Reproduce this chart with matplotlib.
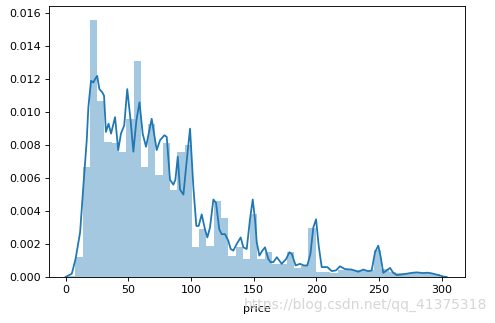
import matplotlib
matplotlib.use("Agg")
import matplotlib.pyplot as plt
import numpy as np

# ---------------- data ----------------
# histogram: 51 bins of equal width starting at bin_start
bin_start = 2.0
bin_width = 5.81
hist_density = [0.00005, 0.0012, 0.0067, 0.0156, 0.0107, 0.0082, 0.0081, 0.0076,
                0.0096, 0.0131, 0.0067, 0.0093, 0.0062, 0.0081, 0.0053, 0.0076,
                0.0080, 0.0018, 0.0029, 0.0019, 0.0046, 0.0036, 0.0013, 0.0018,
                0.0011, 0.0038, 0.0011, 0.0015, 0.0008, 0.0008, 0.0015, 0.00055,
                0.00065, 0.0030, 0.0003, 0.0003, 0.00025, 0.00045, 0.00045, 0.0004,
                0.0004, 0.00045, 0.00165, 0.0005, 0.00028, 0.00025, 0.00027, 0.00026,
                0.00025, 0.00024, 0.0002]

# kde curve (price, density)
kde_price = [0, 5, 8, 11.6, 14.2, 16.9, 18.2, 20.3, 22.2, 23.5, 25.2, 27, 29.3, 30.7,
             32.2, 34.3, 36.3, 39.5, 42, 44.2, 46.8, 49.2, 52, 54.1, 56.5, 59, 61.5,
             64.2, 68.7, 72.7, 75.4, 78.8, 80.7, 83.3, 86, 87.6, 89.5, 91.3, 94, 96.7,
             99.3, 101.9, 104.3, 106.2, 108.6, 111.2, 113.1, 115.2, 117.9, 120, 122.6,
             124.5, 127.2, 129.8, 131.7, 133.8, 136.5, 139.7, 141.8, 144.5, 147.1,
             149.3, 151.1, 152.5, 154.6, 157, 159.1, 161.7, 163.5, 165.7, 168.5, 172.4,
             176, 178.5, 180.5, 183.5, 187, 190, 192.8, 195.3, 197.6, 199.8, 201.9,
             204.3, 208.8, 212.3, 215.7, 218.9, 222.9, 228.2, 233.5, 237.5, 241.5,
             244.2, 246.8, 249.4, 251.4, 253.4, 256.1, 258.8, 261.4, 264.1, 268, 272.1,
             276, 280, 285.3, 289, 292, 297.3, 301.3, 304]
kde_density = [0, 0.0002, 0.0011, 0.0027, 0.0055, 0.0083, 0.0103, 0.0119, 0.0118, 0.0120,
               0.0122, 0.0114, 0.0112, 0.0110, 0.0088, 0.0093, 0.0087, 0.0097, 0.0077,
               0.0087, 0.0092, 0.0114, 0.0094, 0.0076, 0.0095, 0.0106, 0.0087, 0.0079,
               0.0096, 0.0077, 0.0083, 0.0086, 0.0085, 0.0059, 0.0056, 0.0059, 0.0073,
               0.0053, 0.0050, 0.0071, 0.0090, 0.0055, 0.0031, 0.0031, 0.0038, 0.0029,
               0.0024, 0.0030, 0.0047, 0.0045, 0.0029, 0.0026, 0.0026, 0.0022, 0.0017,
               0.0016, 0.0020, 0.0024, 0.0018, 0.0017, 0.0035, 0.0047, 0.0035, 0.0021,
               0.0013, 0.0016, 0.0018, 0.0011, 0.0009, 0.0009, 0.0012, 0.0008, 0.0011,
               0.0015, 0.0014, 0.0007, 0.0008, 0.0007, 0.0007, 0.0014, 0.0030, 0.0035,
               0.0019, 0.0006, 0.0006, 0.00036, 0.0004, 0.00065, 0.00048, 0.00045,
               0.00032, 0.00045, 0.00035, 0.0004, 0.0015, 0.0019, 0.0012, 0.00025,
               0.0004, 0.00055, 0.00025, 0.00012, 0.00015, 0.0002, 0.00025, 0.00028,
               0.00024, 0.00026, 0.00022, 0.00012, 0.00003, 0.0]

x_ticks = [0, 50, 100, 150, 200, 250, 300]
y_ticks = [0.000, 0.002, 0.004, 0.006, 0.008, 0.010, 0.012, 0.014, 0.016]

# ---------------- plot ----------------
dpi = 80
fig = plt.figure(figsize=(495 / dpi, 323 / dpi), dpi=dpi)
ax = fig.add_axes([49 / 495, 1 - 277 / 323, (465 - 49) / 495, (277 - 6) / 323])

edges = bin_start + bin_width * np.arange(len(hist_density) + 1)
ax.bar(edges[:-1], hist_density, width=bin_width, align="edge",
       color="#1f77b4", alpha=0.4, linewidth=0)
ax.plot(kde_price, kde_density, color="#1f77b4", linewidth=1.6)

ax.set_xlim(-13.2, 318.6)
ax.set_ylim(0, 0.01644)
ax.set_xticks(x_ticks)
ax.set_yticks(y_ticks)
ax.set_yticklabels(["%.3f" % v for v in y_ticks])
ax.set_xlabel("price", fontsize=10, labelpad=8)
ax.tick_params(labelsize=10)

# csdn watermark
fig.text(0.984, 0.057, "https://blog.csdn.net/qq_41375318", ha="right", va="center",
         fontsize=12.5, color="#cccccc", alpha=0.8, zorder=0)

fig.savefig("out.png", dpi=dpi)
